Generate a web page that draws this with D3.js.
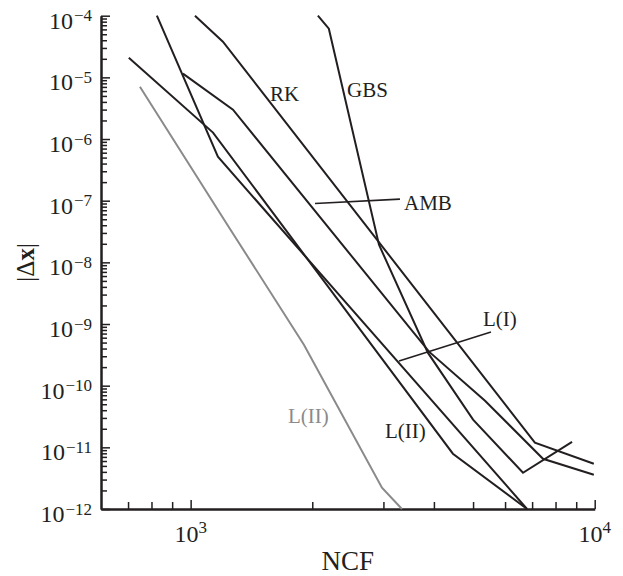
<!DOCTYPE html>
<html>
<head>
<meta charset="utf-8">
<script src="https://cdn.jsdelivr.net/npm/d3@7"></script>
<style>
  body { margin: 0; background: #fff; }
  svg { display: block; }
</style>
</head>
<body>
<svg id="chart" width="623" height="576"></svg>
<script>
// Error |Δx| against number of right-hand-side calls (NCF), log–log

const rkNcf   = [1025, 1202, 7112, 9950];
const rkErr   = [1e-4, 3.79e-5, 1.19e-11, 5.42e-12];

const gbsNcf  = [2065, 2198, 2925, 3864, 5000, 6645, 8790];
const gbsErr  = [1e-4, 6.15e-5, 1.93e-8, 3.43e-10, 2.81e-11, 3.87e-12, 1.23e-11];

const ambNcf  = [957, 1273, 3890, 5352, 7447, 9950];
const ambErr  = [1.15e-5, 2.99e-6, 3.56e-10, 5.70e-11, 6.53e-12, 3.60e-12];

const l1Ncf   = [825, 1168, 6800];
const l1Err   = [1e-4, 5.16e-7, 1e-12];

const l2Ncf   = [703, 1136, 4457, 6800];
const l2Err   = [2.08e-5, 1.27e-6, 7.88e-12, 1e-12];

const l2gNcf  = [749, 1237, 1907, 2975, 3334];
const l2gErr  = [7.06e-6, 3.93e-8, 4.61e-10, 2.21e-12, 1e-12];

const xMajorTicks = [1e3, 1e4];
const xMajorExp   = ["3", "4"];
const yMajorExp   = [-12, -11, -10, -9, -8, -7, -6, -5, -4];

const svg = d3.select("#chart");
const INK = "#231f20";
const GREY = "#8a8a8a";
const serif = "'Liberation Serif', 'Times New Roman', serif";

const x = d3.scaleLog().domain([600, 1e4]).range([101, 594.7]);
const y = d3.scaleLog().domain([1e-12, 1e-4]).range([509, 15.7]);

// minor tick values
const xMinor = [];
for (let m = 7; m <= 9; m++) xMinor.push(m * 100);
for (let m = 2; m <= 9; m++) xMinor.push(m * 1000);
const yMinor = [];
for (let k = -12; k < -4; k++) for (let m = 2; m <= 9; m++) yMinor.push(m * Math.pow(10, k));
const yMajor = yMajorExp.map(e => Math.pow(10, e));

// axes (ticks point inward)
const xAxisMinor = d3.axisBottom(x).tickValues(xMinor).tickSize(-7).tickSizeOuter(0).tickFormat("");
const xAxisMajor = d3.axisBottom(x).tickValues(xMajorTicks).tickSize(-9).tickSizeOuter(0).tickFormat("");
const yAxisMinor = d3.axisLeft(y).tickValues(yMinor).tickSize(-6).tickSizeOuter(0).tickFormat("");
const yAxisMajor = d3.axisLeft(y).tickValues(yMajor).tickSize(-9).tickSizeOuter(0).tickFormat("");

function styleAxis(g) {
  g.selectAll("path.domain").attr("stroke", INK).attr("stroke-width", 2);
  g.selectAll(".tick line").attr("stroke", INK).attr("stroke-width", 1.5);
}
svg.append("g").attr("transform", "translate(0,509)").call(xAxisMinor).call(styleAxis);
svg.append("g").attr("transform", "translate(0,509)").call(xAxisMajor).call(styleAxis);
svg.append("g").attr("transform", "translate(101,0)").call(yAxisMinor).call(styleAxis);
svg.append("g").attr("transform", "translate(101,0)").call(yAxisMajor).call(styleAxis);

// y tick labels 10^k
yMajorExp.forEach(e => {
  const t = svg.append("text")
    .attr("x", 92).attr("y", y(Math.pow(10, e)) + 13)
    .attr("text-anchor", "end")
    .attr("font-family", serif).attr("font-size", 24).attr("fill", INK);
  t.append("tspan").text("10");
  t.append("tspan").attr("dy", -7.5).attr("dx", 1).attr("font-size", 17).text("\u2212" + Math.abs(e));
});

// x tick labels 10^3, 10^4
xMajorTicks.forEach((v, i) => {
  const t = svg.append("text")
    .attr("x", x(v)).attr("y", 542)
    .attr("text-anchor", "middle")
    .attr("font-family", serif).attr("font-size", 24).attr("fill", INK);
  t.append("tspan").text("10");
  t.append("tspan").attr("dy", -9).attr("font-size", 17).text(xMajorExp[i]);
});

// axis titles
svg.append("text")
  .attr("x", (x.range()[0] + x.range()[1]) / 2).attr("y", 570)
  .attr("text-anchor", "middle")
  .attr("font-family", serif).attr("font-size", 27).attr("fill", INK)
  .text("NCF");

const yTitle = svg.append("text")
  .attr("transform", `translate(34,${(y.range()[0] + y.range()[1]) / 2}) rotate(-90)`)
  .attr("text-anchor", "middle")
  .attr("font-family", serif).attr("font-size", 25).attr("fill", INK);
yTitle.append("tspan").text("|\u0394");
yTitle.append("tspan").attr("font-weight", "bold").text("x");
yTitle.append("tspan").text("|");

// curves
const series = [
  { ncf: rkNcf,  err: rkErr,  color: INK },
  { ncf: gbsNcf, err: gbsErr, color: INK },
  { ncf: ambNcf, err: ambErr, color: INK },
  { ncf: l1Ncf,  err: l1Err,  color: INK },
  { ncf: l2Ncf,  err: l2Err,  color: INK },
  { ncf: l2gNcf, err: l2gErr, color: GREY }
];
const line = d3.line().x(d => x(d[0])).y(d => y(d[1]));
svg.append("g").selectAll("path")
  .data(series)
  .join("path")
  .attr("d", s => line(s.ncf.map((n, i) => [n, s.err[i]])))
  .attr("fill", "none")
  .attr("stroke", s => s.color)
  .attr("stroke-width", 2)
  .attr("stroke-linejoin", "miter");

// curve labels, anchored in data coordinates
function label(txt, n, e, color) {
  svg.append("text")
    .attr("x", x(n)).attr("y", y(e))
    .attr("font-family", serif).attr("font-size", 21).attr("fill", color)
    .text(txt);
}
function leader(n1, e1, n2, e2) {
  svg.append("line")
    .attr("x1", x(n1)).attr("y1", y(e1))
    .attr("x2", x(n2)).attr("y2", y(e2))
    .attr("stroke", INK).attr("stroke-width", 1.6);
}
label("RK", 1572, 4.14e-6, INK);
label("GBS", 2438, 4.80e-6, INK);
label("AMB", 3374, 7.06e-8, INK);
leader(2032, 9.0e-8, 3296, 1.06e-7);
label("L(I)", 5290, 9.3e-10, INK);
leader(3279, 2.51e-10, 5537, 7.41e-10);
label("L(II)", 3027, 1.42e-11, INK);
label("L(II)", 1741, 2.48e-11, GREY);
</script>
</body>
</html>
